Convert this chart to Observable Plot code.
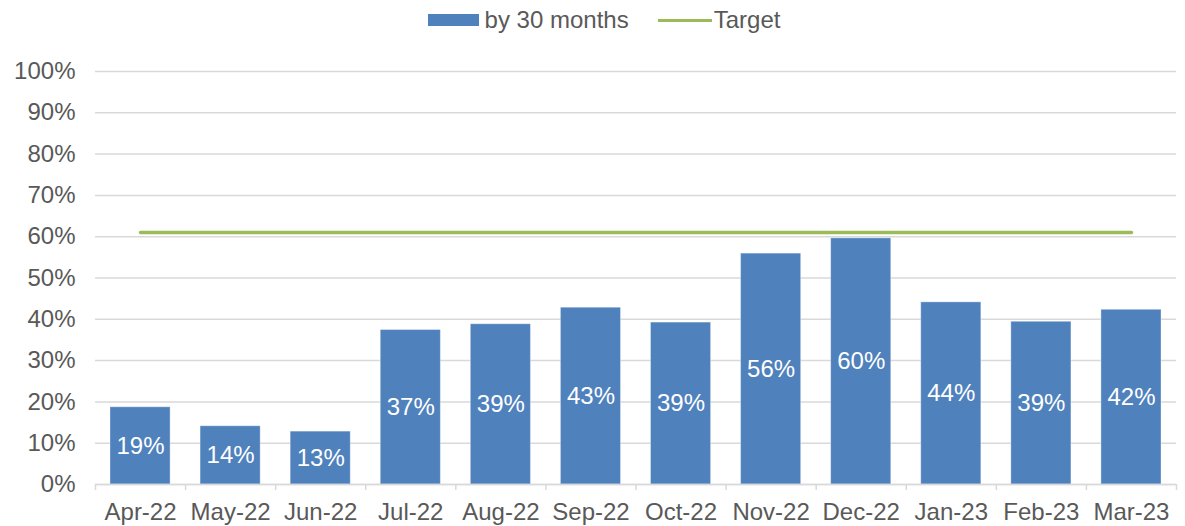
<!DOCTYPE html>
<html>
<head>
<meta charset="utf-8">
<script src="https://cdn.jsdelivr.net/npm/d3@7"></script>
<script src="https://cdn.jsdelivr.net/npm/@observablehq/plot@0.6"></script>
<style>
  html, body { margin: 0; padding: 0; background: #fff; }
  body { width: 1185px; height: 526px; overflow: hidden; font-family: "Liberation Sans", Arial, sans-serif; }
  #legend { height: 40px; display: flex; align-items: center; justify-content: center; padding-left: 23px; box-sizing: border-box; font-size: 24px; color: #595959; }
  .item { display: flex; align-items: center; }
  .sw-bar { width: 51px; height: 12px; background: #4F81BD; margin-right: 6px; }
  .sw-line { width: 54px; height: 3px; background: #9BBB59; margin-right: 2px; margin-left: 29px; }
</style>
</head>
<body>
<div id="legend">
  <div class="item"><span class="sw-bar"></span><span id="lab1"></span></div>
  <div class="item"><span class="sw-line"></span><span id="lab2"></span></div>
</div>
<div id="chart"></div>
<script>
const months = ["Apr-22","May-22","Jun-22","Jul-22","Aug-22","Sep-22","Oct-22","Nov-22","Dec-22","Jan-23","Feb-23","Mar-23"];
const values = [18.7, 14.1, 12.8, 37.4, 38.8, 42.8, 39.2, 55.9, 59.6, 44.1, 39.4, 42.3];
const target = [61, 61, 61, 61, 61, 61, 61, 61, 61, 61, 61, 61];
const yTicks = [0, 10, 20, 30, 40, 50, 60, 70, 80, 90, 100];
const seriesNames = ["by 30 months", "Target"];

document.getElementById("lab1").textContent = seriesNames[0];
document.getElementById("lab2").textContent = seriesNames[1];

const data = months.map((m, i) => ({i, month: m, value: values[i], target: target[i]}));
const boundaries = d3.range(months.length + 1);
const centers = months.map((m, i) => i + 0.5);

const chart = Plot.plot({
  width: 1185,
  height: 486,
  marginTop: 31,
  marginBottom: 42,
  marginLeft: 95,
  marginRight: 9,
  style: {fontFamily: "'Liberation Sans', Arial, sans-serif", fontSize: "24px", color: "#595959", background: "#fff"},
  x: {type: "linear", domain: [0, months.length]},
  y: {domain: [0, 100]},
  marks: [
    Plot.gridY(yTicks, {stroke: "#d9d9d9", strokeOpacity: 1, strokeWidth: 1.5}),
    Plot.axisY(yTicks, {tickSize: 0, tickPadding: 20, tickFormat: d => d + "%", fill: "#595959", fontSize: 24, label: null}),
    Plot.rectY(data, {x1: d => d.i, x2: d => d.i + 1, y: "value", insetLeft: 15, insetRight: 15, fill: "#4F81BD", stroke: "#ffffff", strokeOpacity: 0.35, strokeWidth: 1}),
    Plot.text(data, {x: d => d.i + 0.5, y: d => d.value / 2, text: d => Math.round(d.value) + "%", fill: "white", fontSize: 24}),
    Plot.lineY(data, {x: d => d.i + 0.5, y: "target", stroke: "#9BBB59", strokeWidth: 3.5}),
    Plot.ruleY([0], {stroke: "#d9d9d9", strokeWidth: 1.5}),
    Plot.axisX(boundaries, {tickSize: 6, tickFormat: () => "", stroke: "#d9d9d9", strokeWidth: 1.5, strokeOpacity: 1, label: null}),
    Plot.axisX(centers, {tickSize: 0, tickPadding: 18, tickFormat: d => months[Math.floor(d)], fill: "#595959", fontSize: 24, label: null})
  ]
});
document.getElementById("chart").appendChild(chart);
</script>
</body>
</html>
